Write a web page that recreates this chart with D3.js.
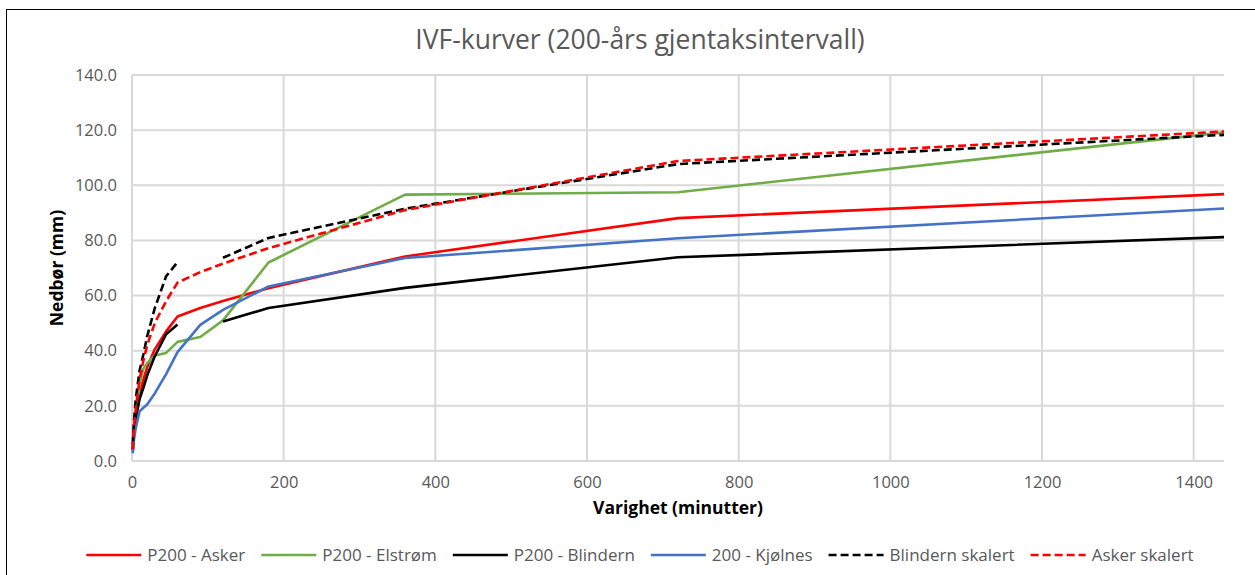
<!DOCTYPE html>
<html>
<head>
<meta charset="utf-8">
<script src="https://cdn.jsdelivr.net/npm/d3@7"></script>
<style>
  body { margin: 0; background: #fff; }
  text { font-family: "Open Sans", sans-serif; }
</style>
</head>
<body>
<div id="chart"></div>
<script>
/*
	IVF-kurver, 200-års gjentaksintervall, drawn with D3
*/

// durations (minutes)
var durations = [1, 2, 3, 5, 10, 15, 20, 30, 45, 60, 90, 120, 180, 360, 720, 1440];

// precipitation (mm) per series, null = no value
var askerP200 = [3.5, 8, 11, 15.5, 24, 29.5, 34, 40.5, 47, 52.4, 55.5, 58, 62.7, 74.2, 88.1, 96.8];
var elstromP200 = [4, 8, 11.5, 17, 28, 33.5, 35.5, 38.3, 39.2, 43.2, 45, 51, 72, 96.6, 97.5, 119.2];
var blindernP200 = [4.2, 8, 11, 15.5, 22.5, 26.5, 31, 38, 46, 49.5, null, 50.6, 55.5, 62.8, 73.9, 81.2];
var kjolnes200 = [2.8, 6, 8.5, 12, 18, 19.3, 20.5, 24.5, 31.5, 39.5, 49.4, 54.8, 63.3, 73.6, 80.8, 91.6];
var blindernSkalert = [6.1, 11.7, 16, 22.6, 32.8, 38.6, 45.2, 55.4, 67, 72.1, null, 73.7, 80.9, 91.5, 107.7, 118.3];
var askerSkalert = [4.3, 9.9, 13.6, 19.1, 29.6, 36.4, 42, 50, 58, 64.7, 68.5, 71.6, 77.2, 91.0, 108.8, 119.5];

var seriesNames = ["P200 - Asker", "P200 - Elstrøm", "P200 - Blindern", "200 - Kjølnes", "Blindern skalert", "Asker skalert"];

// tick labels
var xTicks = [0, 200, 400, 600, 800, 1000, 1200, 1400];
var yTicks = [0, 20, 40, 60, 80, 100, 120, 140];

var chartTitle = "IVF-kurver (200-års gjentaksintervall)";
var xAxisLabel = "Varighet (minutter)";
var yAxisLabel = "Nedbør (mm)";

var seriesValues = [askerP200, elstromP200, blindernP200, kjolnes200, blindernSkalert, askerSkalert];
var seriesColors = ["#ff0000", "#70ad47", "#000000", "#4472c4", "#000000", "#ff0000"];
var seriesDash = [null, null, null, null, "8,4", "8,4"];

var series = seriesNames.map(function (name, i) {
    return {
        name: name,
        color: seriesColors[i],
        dash: seriesDash[i],
        points: durations.map(function (t, j) { return {t: t, v: seriesValues[i][j]}; })
    };
});

var W = 1255, H = 575;
var margin = {top: 75, right: 31, bottom: 114, left: 132};
var width = W - margin.left - margin.right;
var height = H - margin.top - margin.bottom;

var svg = d3.select("#chart").append("svg")
    .attr("width", W)
    .attr("height", H);

// chart border (cropped at right and bottom)
svg.append("rect")
    .attr("x", 6.5).attr("y", 9.5)
    .attr("width", W + 20).attr("height", H + 20)
    .attr("fill", "#fff")
    .attr("stroke", "#000")
    .attr("stroke-width", 1);

svg.append("text")
    .attr("x", 640).attr("y", 49)
    .attr("text-anchor", "middle")
    .attr("fill", "#595959")
    .style("font-size", "26.5px")
    .text(chartTitle);

var g = svg.append("g").attr("transform", "translate(" + margin.left + "," + margin.top + ")");

var xScale = d3.scaleLinear().domain([0, 1440]).range([0, width]);
var yScale = d3.scaleLinear().domain([0, 140]).range([height, 0]);

// gridlines
g.append("g").attr("class", "grid")
    .selectAll("line.h").data(yTicks).enter().append("line")
    .attr("x1", 0).attr("x2", width)
    .attr("y1", function (d) { return yScale(d); })
    .attr("y2", function (d) { return yScale(d); })
    .attr("stroke", "#d9d9d9").attr("stroke-width", 2);

g.append("g").attr("class", "grid")
    .selectAll("line.v").data(xTicks).enter().append("line")
    .attr("y1", 0).attr("y2", height)
    .attr("x1", function (d) { return xScale(d); })
    .attr("x2", function (d) { return xScale(d); })
    .attr("stroke", "#d9d9d9").attr("stroke-width", 2);

// axes (labels only, lines come from the grid)
var xAxis = d3.axisBottom(xScale).tickValues(xTicks).tickSize(0).tickPadding(15).tickFormat(d3.format("d"));
var yAxis = d3.axisLeft(yScale).tickValues(yTicks).tickSize(0).tickPadding(15).tickFormat(d3.format(".1f"));

g.append("g")
    .attr("class", "x axis")
    .attr("transform", "translate(0," + height + ")")
    .call(xAxis);

g.append("g")
    .attr("class", "y axis")
    .call(yAxis);

g.selectAll(".axis .domain").remove();
g.selectAll(".axis text")
    .attr("fill", "#595959")
    .style("font-family", "'Open Sans', sans-serif")
    .style("font-size", "16.5px");

// axis titles
svg.append("text")
    .attr("x", margin.left + width / 2).attr("y", 514)
    .attr("text-anchor", "middle")
    .style("font-size", "17.5px").style("font-weight", "bold")
    .text(xAxisLabel);

svg.append("text")
    .attr("transform", "translate(63," + (margin.top + height / 2) + ") rotate(-90)")
    .attr("text-anchor", "middle")
    .style("font-size", "17.5px").style("font-weight", "bold")
    .text(yAxisLabel);

// series lines
var line = d3.line()
    .defined(function (d) { return d.v != null; })
    .x(function (d) { return xScale(d.t); })
    .y(function (d) { return yScale(d.v); });

g.selectAll("path.series")
    .data(series)
    .enter()
  .append("path")
    .attr("class", "series")
    .attr("d", function (d) { return line(d.points); })
    .attr("fill", "none")
    .attr("stroke", function (d) { return d.color; })
    .attr("stroke-width", 2.6)
    .attr("stroke-dasharray", function (d) { return d.dash; })
    .attr("stroke-linejoin", "round");

// legend, laid out from measured text widths and centred
var legend = svg.append("g").attr("class", "legend");
var lineLen = 55, textGap = 6, itemGap = 16;

var items = legend.selectAll("g.item")
    .data(series)
    .enter()
  .append("g")
    .attr("class", "item");

items.append("line")
    .attr("x1", 0).attr("x2", lineLen)
    .attr("y1", 0).attr("y2", 0)
    .attr("stroke", function (d) { return d.color; })
    .attr("stroke-width", 2.6)
    .attr("stroke-dasharray", function (d) { return d.dash; });

items.append("text")
    .attr("x", lineLen + textGap)
    .attr("dy", "0.35em")
    .attr("fill", "#595959")
    .style("font-size", "17px")
    .text(function (d) { return d.name; });

var offsets = [], total = 0;
items.each(function () {
    var w = lineLen + textGap + d3.select(this).select("text").node().getComputedTextLength();
    offsets.push(total);
    total += w + itemGap;
});
total -= itemGap;
var legendStart = 640 - total / 2;
items.attr("transform", function (d, i) { return "translate(" + (legendStart + offsets[i]) + ",555)"; });
</script>
</body>
</html>
